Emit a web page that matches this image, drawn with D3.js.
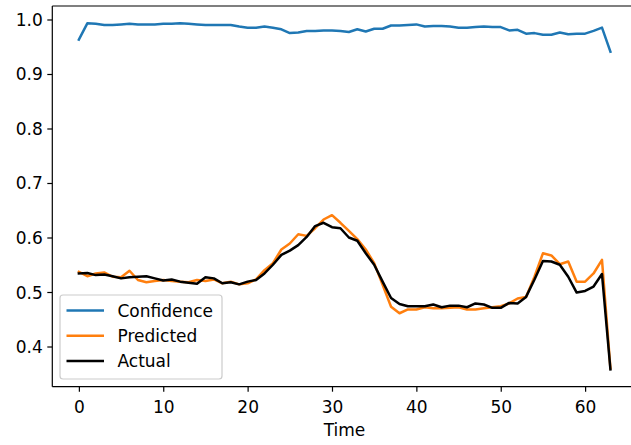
<!DOCTYPE html>
<html>
<head>
<meta charset="utf-8">
<script src="https://cdn.jsdelivr.net/npm/d3@7"></script>
<style>
  html, body { margin: 0; padding: 0; background: #fff; }
  svg { display: block; font-family: "DejaVu Sans", sans-serif; }
</style>
</head>
<body>
<svg id="chart" width="631" height="445"></svg>
<script>
// Model output over time: confidence, predicted value and actual value
const confidence = [
  0.963, 0.993, 0.992, 0.990, 0.990, 0.991, 0.992, 0.991, 0.991, 0.991,
  0.992, 0.992, 0.993, 0.992, 0.991, 0.990, 0.990, 0.990, 0.990, 0.987,
  0.985, 0.985, 0.987, 0.985, 0.982, 0.975, 0.976, 0.979, 0.979, 0.980,
  0.980, 0.979, 0.977, 0.982, 0.978, 0.983, 0.983, 0.989, 0.989, 0.990,
  0.991, 0.987, 0.988, 0.988, 0.987, 0.985, 0.985, 0.986, 0.987, 0.986,
  0.986, 0.980, 0.981, 0.974, 0.975, 0.972, 0.972, 0.976, 0.973, 0.974,
  0.974, 0.979, 0.985, 0.941
];
const predicted = [
  0.537, 0.529, 0.534, 0.536, 0.528, 0.527, 0.539, 0.522, 0.518, 0.520,
  0.522, 0.520, 0.519, 0.518, 0.522, 0.520, 0.523, 0.516, 0.519, 0.514,
  0.516, 0.523, 0.540, 0.553, 0.578, 0.589, 0.606, 0.603, 0.617, 0.633,
  0.641, 0.627, 0.612, 0.597, 0.578, 0.553, 0.513, 0.473, 0.461, 0.468,
  0.468, 0.472, 0.470, 0.470, 0.471, 0.472, 0.468, 0.468, 0.470, 0.472,
  0.474, 0.479, 0.488, 0.491, 0.528, 0.571, 0.567, 0.551, 0.556, 0.519,
  0.519, 0.534, 0.559, 0.360
];
const actual = [
  0.534, 0.535, 0.531, 0.532, 0.529, 0.525, 0.527, 0.528, 0.529, 0.525,
  0.521, 0.523, 0.519, 0.517, 0.515, 0.527, 0.525, 0.516, 0.518, 0.514,
  0.519, 0.522, 0.534, 0.550, 0.568, 0.576, 0.586, 0.601, 0.621, 0.627,
  0.619, 0.617, 0.600, 0.594, 0.571, 0.550, 0.519, 0.489, 0.478, 0.474,
  0.474, 0.474, 0.477, 0.472, 0.475, 0.475, 0.472, 0.479, 0.477, 0.471,
  0.471, 0.480, 0.479, 0.491, 0.523, 0.557, 0.556, 0.550, 0.528, 0.499,
  0.502, 0.510, 0.533, 0.358
];
const seriesNames = ["Confidence", "Predicted", "Actual"];
const seriesColors = ["#1f77b4", "#ff7f0e", "#000000"];
const xTicks = [0, 10, 20, 30, 40, 50, 60];
const yTicks = [0.4, 0.5, 0.6, 0.7, 0.8, 0.9, 1.0];
const xLabel = "Time";

const series = [confidence, predicted, actual];
const fontSize = 17;

const svg = d3.select("#chart");
const plot = { left: 52.3, top: 6, bottom: 386.7, right: 637 };

// Axis limits with 5% margins on both sides
const n = confidence.length;
const xPad = (n - 1) * 0.05;
const allVals = series.flat();
const yMin = d3.min(allVals), yMax = d3.max(allVals);
const yPad = (yMax - yMin) * 0.05;

const x = d3.scaleLinear().domain([-xPad, n - 1 + xPad]).range([plot.left, plot.right]);
const y = d3.scaleLinear().domain([yMin - yPad, yMax + yPad]).range([plot.bottom, plot.top]);

// Lines
const line = d3.line().x((d, i) => x(i)).y(d => y(d));
series.forEach((s, k) => {
  svg.append("path")
    .datum(s)
    .attr("d", line)
    .attr("fill", "none")
    .attr("stroke", seriesColors[k])
    .attr("stroke-width", 2.5)
    .attr("stroke-linejoin", "round")
    .attr("stroke-linecap", "square");
});

// Axes
const xAxis = d3.axisBottom(x).tickValues(xTicks).tickFormat(d3.format("d"))
  .tickSize(5).tickPadding(4.5);
const yAxis = d3.axisLeft(y).tickValues(yTicks).tickFormat(d3.format(".1f"))
  .tickSize(5).tickPadding(4.5);

const gx = svg.append("g").attr("transform", `translate(0,${plot.bottom})`).call(xAxis);
const gy = svg.append("g").attr("transform", `translate(${plot.left},0)`).call(yAxis);
[gx, gy].forEach(g => {
  g.select(".domain").remove();
  g.selectAll(".tick line").attr("stroke", "#000").attr("stroke-width", 1.2);
  g.selectAll(".tick text").attr("fill", "#000").attr("font-size", fontSize)
    .attr("font-family", "DejaVu Sans, sans-serif");
});
gx.selectAll(".tick text").attr("dy", null).attr("y", 26);
gy.selectAll(".tick text").attr("dy", null).attr("y", 6);

// Spines
const frame = svg.append("g").attr("stroke", "#000").attr("stroke-width", 1.2).attr("fill", "none");
frame.append("line").attr("x1", plot.left).attr("x2", plot.left).attr("y1", plot.top).attr("y2", plot.bottom);
frame.append("line").attr("x1", plot.left).attr("x2", plot.right).attr("y1", plot.bottom).attr("y2", plot.bottom);
frame.append("line").attr("x1", plot.left).attr("x2", plot.right).attr("y1", plot.top).attr("y2", plot.top);
frame.append("line").attr("x1", plot.right).attr("x2", plot.right).attr("y1", plot.top).attr("y2", plot.bottom);

// X axis label
svg.append("text")
  .attr("x", 344.5)
  .attr("y", 436)
  .attr("text-anchor", "middle")
  .attr("font-size", fontSize)
  .attr("fill", "#000")
  .text(xLabel);

// Legend
const lg = svg.append("g");
const lgBox = { x: 60, y: 295, w: 162, h: 84 };
lg.append("rect")
  .attr("x", lgBox.x).attr("y", lgBox.y)
  .attr("width", lgBox.w).attr("height", lgBox.h)
  .attr("rx", 3).attr("ry", 3)
  .attr("fill", "#fff").attr("fill-opacity", 0.8)
  .attr("stroke", "#cccccc").attr("stroke-width", 1.2);
seriesNames.forEach((name, k) => {
  const cy = lgBox.y + 15.5 + k * 25.3;
  lg.append("line")
    .attr("x1", lgBox.x + 6.5).attr("x2", lgBox.x + 44)
    .attr("y1", cy).attr("y2", cy)
    .attr("stroke", seriesColors[k]).attr("stroke-width", 2.5);
  lg.append("text")
    .attr("x", lgBox.x + 57.5).attr("y", cy + 6)
    .attr("font-size", fontSize).attr("fill", "#000")
    .text(name);
});
</script>
</body>
</html>
